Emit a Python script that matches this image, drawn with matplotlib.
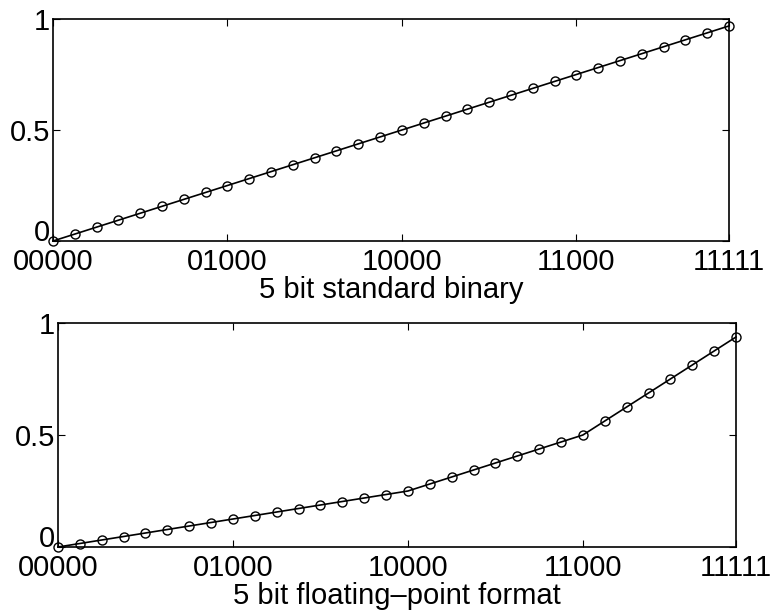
import matplotlib
matplotlib.use("Agg")
import matplotlib.pyplot as plt

plt.rcParams['font.family'] = ['Liberation Sans', 'DejaVu Sans']

codes = list(range(32))
xtick_pos = [0, 8, 16, 24, 31]
xtick_labels = ["00000", "01000", "10000", "11000", "11111"]
ytick_pos = [0, 0.5, 1]
ytick_labels = ["0", "0.5", "1"]

standard_binary = [0.0, 0.03125, 0.0625, 0.09375, 0.125, 0.15625, 0.1875, 0.21875,
                   0.25, 0.28125, 0.3125, 0.34375, 0.375, 0.40625, 0.4375, 0.46875,
                   0.5, 0.53125, 0.5625, 0.59375, 0.625, 0.65625, 0.6875, 0.71875,
                   0.75, 0.78125, 0.8125, 0.84375, 0.875, 0.90625, 0.9375, 0.96875]

floating_point = [0.0, 0.015625, 0.03125, 0.046875, 0.0625, 0.078125, 0.09375, 0.109375,
                  0.125, 0.140625, 0.15625, 0.171875, 0.1875, 0.203125, 0.21875, 0.234375,
                  0.25, 0.28125, 0.3125, 0.34375, 0.375, 0.40625, 0.4375, 0.46875,
                  0.5, 0.5625, 0.625, 0.6875, 0.75, 0.8125, 0.875, 0.9375]

xlabels = ["5 bit standard binary", "5 bit floating\u2013point format"]

W, H = 776, 613
fig = plt.figure(figsize=(W / 100, H / 100), dpi=100)

positions = [
    (53 / W, (H - 241) / H, (729 - 53) / W, 222 / H),
    (58 / W, (H - 547) / H, (736 - 58) / W, 224 / H),
]

for pos, ydata, xl in zip(positions, [standard_binary, floating_point], xlabels):
    ax = fig.add_axes(pos)
    ax.plot(codes, ydata, color='black', linewidth=1.2, marker='o',
            markersize=6.5, markerfacecolor='none', markeredgecolor='black',
            markeredgewidth=1.0, clip_on=False, zorder=3)
    ax.set_xlim(0, 31)
    ax.set_ylim(0, 1)
    ax.set_xticks(xtick_pos)
    ax.set_xticklabels(xtick_labels)
    ax.set_yticks(ytick_pos)
    ax.set_yticklabels(ytick_labels)
    ax.tick_params(direction='in', length=5, width=0.8, labelsize=21,
                   top=True, right=True, color='black')
    ax.tick_params(axis='x', pad=5)
    ax.tick_params(axis='y', pad=2)
    ax.set_xlabel(xl, fontsize=21, labelpad=0)
    for s in ax.spines.values():
        s.set_linewidth(1.2)
        s.set_color('black')
    ax.get_yticklabels()[0].set_verticalalignment('baseline')

fig.savefig("out.png", dpi=100)
